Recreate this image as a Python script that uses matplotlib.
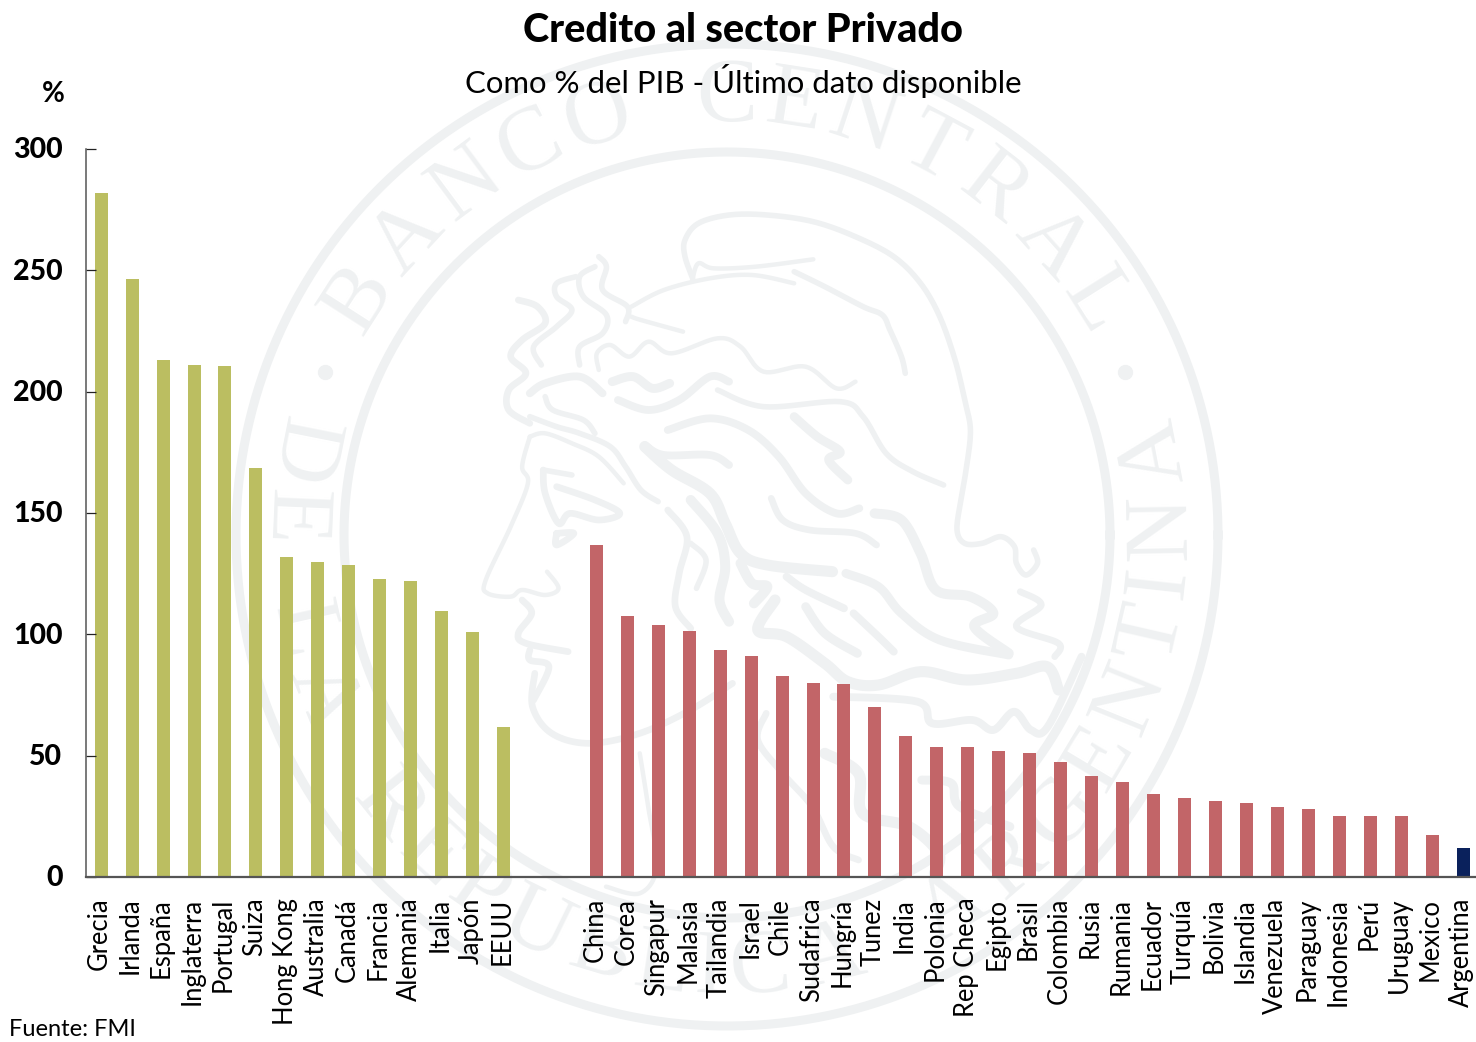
import numpy as np
import matplotlib
matplotlib.use("Agg")
import matplotlib.pyplot as plt
from matplotlib.font_manager import FontProperties
from matplotlib.textpath import TextPath
from matplotlib.transforms import ScaledTranslation

desarrollados = ["Grecia", "Irlanda", "España", "Inglaterra", "Portugal", "Suiza", "Hong Kong",
                 "Australia", "Canadá", "Francia", "Alemania", "Italia", "Japón", "EEUU"]
desarrollados_val = [282, 246.5, 213, 211, 210.5, 168.5, 132, 130, 128.5, 123, 122, 109.5, 101, 62]

emergentes = ["China", "Corea", "Singapur", "Malasia", "Tailandia", "Israel", "Chile", "Sudafrica",
              "Hungría", "Tunez", "India", "Polonia", "Rep Checa", "Egipto", "Brasil", "Colombia",
              "Rusia", "Rumania", "Ecuador", "Turquía", "Bolivia", "Islandia", "Venezuela",
              "Paraguay", "Indonesia", "Perú", "Uruguay", "Mexico"]
emergentes_val = [137, 107.5, 104, 101.5, 93.5, 91, 83, 80, 79.5, 70, 58, 53.5, 53.5, 52, 51, 47.5,
                  41.5, 39, 34, 32.5, 31.5, 30.5, 29, 28, 25, 25, 25, 17.5]

argentina = ["Argentina"]
argentina_val = [12]

yticks = [0, 50, 100, 150, 200, 250, 300]

OLIVA = "#BBBE61"
ROJO = "#C26568"
AZUL = "#0A215C"
SELLO = "#EFF1F2"
W, H = 1476, 1042

# trazos del perfil del sello, en unidades propias del dibujo
trazos = [
    (5, [(555,235),(535,170),(535,120),(570,70),(650,45),(750,45),(870,65),(980,110),(1080,170),(1150,250),
         (1200,350),(1240,480),(1265,600),(1280,690),(1270,800),(1255,900),(1245,990),(1265,1030),(1310,1030),
         (1360,1010),(1395,1040),(1400,1090),(1425,1125),(1455,1090),(1445,1050)]),
    (4, [(555,235),(570,190),(610,205),(720,200),(870,178)]),
    (5, [(820,215),(900,260),(1000,320),(1050,345),(1070,390),(1100,470),(1110,520)]),
    (4, [(395,320),(480,270),(600,235),(710,225),(820,250)]),
    (4, [(395,350),(420,360),(530,395)]),
    (5, [(310,170),(330,200),(320,270),(385,320),(380,365)]),
    (5, [(300,200),(260,230),(270,290),(330,345),(320,400),(260,440),(260,495)]),
    (5, [(250,230),(200,250),(200,290),(240,330),(200,380),(140,440),(160,495)]),
    (6, [(100,300),(150,320),(170,370),(110,420),(80,470),(120,520),(75,570),(75,630),(130,670)]),
    (4, [(310,510),(305,460),(340,435),(390,470),(440,425),(500,460),(620,415),(680,440),(740,515),(850,500),(930,565),(980,545)]),
    (8, [(345,545),(400,530),(450,565),(495,550)]),
    (7, [(360,600),(440,630),(520,600),(600,530),(650,545)]),
    (5, [(620,570),(740,620),(940,605),(1000,650),(1060,760),(1130,815),(1210,855)]),
    (7, [(490,690),(600,655),(700,690),(780,770),(850,880),(930,940),(990,925)]),
    (8, [(820,650),(880,710),(940,755),(910,780),(960,840)]),
    (7, [(430,735),(480,765),(600,765),(650,795)]),
    (10, [(430,740),(500,810),(600,880),(640,970),(680,1060),(750,1095),(920,1115)]),
    (6, [(760,895),(790,960),(860,990),(980,1000),(1035,1035)]),
    (9, [(1030,940),(1100,960),(1150,1060),(1190,1170),(1280,1190),(1340,1240),(1290,1280),(1380,1360)]),
    (4, [(130,710),(110,800),(125,850),(80,980),(15,1140),(20,1180),(80,1190),(110,1170),(170,1185),(205,1165),(175,1115)]),
    (6, [(110,1200),(135,1240),(100,1300),(120,1330),(230,1355)]),
    (6, [(130,1350),(130,1380),(180,1400),(140,1500)]),
    (4, [(130,710),(170,700),(240,730),(310,770),(375,850)]),
    (5, [(130,650),(200,680),(260,700),(340,740),(380,800),(420,870),(465,905)]),
    (7, [(130,580),(170,550),(260,530),(320,580)]),
    (5, [(170,590),(190,630),(270,660),(300,700)]),
    (6, [(165,810),(170,880),(205,970),(235,940),(310,960),(365,940),(300,900),(200,860)]),
    (5, [(165,810),(240,825)]),
    (6, [(200,1000),(245,1000),(200,1035),(200,1000)]),
    (6, [(490,930),(540,1010),(520,1120),(510,1220),(550,1285)]),
    (5, [(550,1030),(590,1080),(565,1165)]),
    (9, [(550,900),(620,1000),(640,1100),(625,1200),(650,1265)]),
    (9, [(680,1090),(710,1150),(750,1160),(715,1210)]),
    (10, [(770,1200),(725,1290),(800,1310),(900,1390),(960,1445),(1040,1455),(1150,1415),(1270,1440),(1400,1420),(1480,1400),(1510,1470)]),
    (7, [(800,1130),(850,1170),(950,1225)]),
    (8, [(850,1220),(900,1300),(985,1360)]),
    (7, [(975,1240),(1040,1310),(1080,1355)]),
    (8, [(955,1120),(1040,1160),(1100,1240),(1200,1320),(1380,1365)]),
    (6, [(1410,1175),(1465,1215),(1400,1280),(1510,1330),(1500,1370)]),
    # cuello y barba
    (6, [(143,1420),(137,1520),(187,1600),(285,1630),(417,1600),(549,1530),(659,1450)]),
    (4, [(417,1660),(439,1820),(461,2000),(417,2080),(329,2060)]),
    (7, [(922,1490),(1142,1505),(1180,1570),(1285,1560),(1340,1590),(1394,1535),(1438,1590),(1482,1580),(1570,1370)]),
    (6, [(747,1540),(725,1620),(790,1720),(867,1820),(922,1940),(988,1980)]),
    (10, [(900,1660),(988,1720),(999,1840),(1120,1880),(1197,1960),(1186,2020)]),
    (8, [(1153,1740),(1230,1750),(1252,1820),(1383,1880)]),
]


def suavizar(puntos, n=12):
    # Catmull-Rom simple entre puntos del trazo
    p = np.array(puntos, dtype=float)
    p = np.vstack([p[0], p, p[-1]])
    t = np.linspace(0, 1, n)[:, None]
    tramos = []
    for i in range(1, len(p) - 2):
        p0, p1, p2, p3 = p[i - 1], p[i], p[i + 1], p[i + 2]
        tramos.append(0.5 * (2 * p1 + (p2 - p0) * t + (2 * p0 - 5 * p1 + 4 * p2 - p3) * t ** 2
                             + (3 * p1 - p0 - 3 * p2 + p3) * t ** 3))
    return np.vstack(tramos)


def texto_arco(ax, texto, desde, hasta, radio, arriba):
    # reparte las letras sobre el arco segun su ancho
    fuente = FontProperties(family="Liberation Serif", size=66)
    anchos = [TextPath((0, 0), c if c != " " else "n", prop=fuente).get_extents().width for c in texto]
    anchos = np.array(anchos) + 8
    centros = (np.cumsum(anchos) - anchos / 2) / anchos.sum()
    for c, f in zip(texto, centros):
        ang = desde + (hasta - desde) * f
        a = np.radians(ang)
        if arriba:
            x, y, rot = CX + radio * np.sin(a), CY - radio * np.cos(a), -ang
        else:
            x, y, rot = CX + radio * np.sin(a), CY + radio * np.cos(a), ang
        ax.text(x, y, c, family="Liberation Serif", fontsize=66, color=SELLO, rotation=rot,
                rotation_mode="anchor", ha="center", va="center")


plt.rcParams["font.family"] = ["Lato", "DejaVu Sans"]

fig = plt.figure(figsize=(W / 100, H / 100), dpi=100)

# sello de fondo
fondo = fig.add_axes([0, 0, 1, 1])
fondo.set_xlim(0, W)
fondo.set_ylim(H, 0)
fondo.axis("off")

CX, CY = 727, 535
ang = np.linspace(0, 2 * np.pi, 500)
for r, lw in [(491, 6.5), (383, 6.5)]:
    fondo.plot(CX + r * np.cos(ang), CY + r * np.sin(ang), color=SELLO, lw=lw)
fondo.plot([325, 1125], [372, 372], ls="none", marker="o", ms=10, color=SELLO)
texto_arco(fondo, "BANCO CENTRAL", -62, 62, 436, True)
texto_arco(fondo, "DE LA REPUBLICA ARGENTINA", -106, 106, 436, False)

for lw, puntos in trazos:
    xy = suavizar(puntos)
    fondo.plot(480 + xy[:, 0] / 2.61, 200 + xy[:, 1] / 3, color=SELLO, lw=lw * 0.8,
               solid_capstyle="round", solid_joinstyle="round")

# grafico de barras
ax = fig.add_axes([86 / W, 1 - 877 / H, (W - 86) / W, (877 - 149) / H])
ax.patch.set_visible(False)

nombres = desarrollados + emergentes + argentina
pos_a = np.arange(len(desarrollados))
pos_b = np.arange(len(emergentes)) + len(desarrollados) + 2
pos_c = np.arange(len(argentina)) + pos_b[-1] + 1

ax.bar(pos_a, desarrollados_val, width=0.42, color=OLIVA)
ax.bar(pos_b, emergentes_val, width=0.42, color=ROJO)
ax.bar(pos_c, argentina_val, width=0.42, color=AZUL)

ax.set_xlim(-0.49, 44.42)
ax.set_ylim(0, 300)

for lado in ["top", "right"]:
    ax.spines[lado].set_visible(False)
ax.spines["left"].set_color("#555555")
ax.spines["bottom"].set_color("#555555")
ax.spines["left"].set_linewidth(1.1)
ax.spines["bottom"].set_linewidth(1.6)

ax.set_yticks(yticks)
ax.set_yticklabels([str(v) for v in yticks], fontsize=20.5, fontweight="black", color="black")
ax.tick_params(axis="y", direction="in", length=7.5, width=0.9, color="#222222", pad=17)
sube = ScaledTranslation(0, 1 / 100, fig.dpi_scale_trans)
for etiqueta in ax.get_yticklabels():
    etiqueta.set_transform(etiqueta.get_transform() + sube)

ax.set_xticks(np.concatenate([pos_a, pos_b, pos_c]))
ax.set_xticklabels(nombres, rotation=90, fontsize=18.4, ha="center", va="top", color="black")
ax.tick_params(axis="x", length=0, pad=15)
izquierda = ScaledTranslation(-1.5 / 100, 0, fig.dpi_scale_trans)
for etiqueta in ax.get_xticklabels():
    etiqueta.set_transform(etiqueta.get_transform() + izquierda)

fig.text(743 / W, 1 - 30 / H, "Credito al sector Privado", fontsize=28.5, fontweight="black",
         ha="center", va="center")
fig.text(743 / W, 1 - 81 / H, "Como % del PIB - Último dato disponible", fontsize=22.4,
         ha="center", va="center")
fig.text(53 / W, 1 - 94 / H, "%", fontsize=20, fontweight="bold", ha="center", va="center")
fig.text(9 / W, 1 - 1030 / H, "Fuente: FMI", fontsize=17, ha="left", va="center")

fig.savefig("out.png", dpi=100)
